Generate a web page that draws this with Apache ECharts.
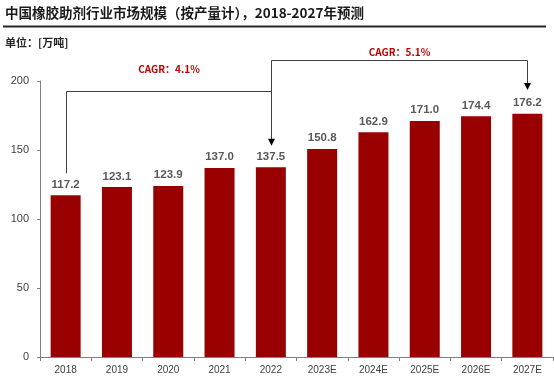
<!DOCTYPE html>
<html><head><meta charset="utf-8">
<script src="https://cdn.jsdelivr.net/npm/echarts@6/dist/echarts.min.js"></script>
<style>html,body{margin:0;padding:0;background:#fff}#c{width:554px;height:382px}</style>
</head><body><div id="c"></div>
<script>
const categories = ['2018','2019','2020','2021','2022','2023E','2024E','2025E','2026E','2027E'];
const values = [117.2,123.1,123.9,137.0,137.5,150.8,162.9,171.0,174.4,176.2];
const yTicks = [0,50,100,150,200];
// CAGR annotations: from index, to index, label, bracket level, start level, arrow tip level, text level (all in axis values)
const cagrFrom = [0, 4];
const cagrTo = [4, 9];
const cagrText = ['CAGR：4.1%', 'CAGR：5.1%'];
const cagrLevel = [193, 215];
const cagrStart = [133, 190];
const cagrTip = [153, 193.5];
const cagrTextLevel = [208.5, 221];

const FONT = '"Noto Sans CJK SC","Liberation Sans",sans-serif';
const NUM = '"Liberation Sans","Noto Sans CJK SC",sans-serif';
const chart = echarts.init(document.getElementById('c'));
const option = {
  animation: false,
  backgroundColor: '#fff',
  grid: {left: 40, right: 1, top: 81, bottom: 25, containLabel: false},
  xAxis: {
    type: 'category', data: categories,
    axisLine: {lineStyle: {color: '#7f7f7f', width: 1}},
    axisTick: {show: true, inside: false, length: 4, lineStyle: {color: '#7f7f7f'}},
    axisLabel: {color: '#404040', fontSize: 10, fontFamily: NUM, margin: 8}
  },
  yAxis: {
    type: 'value', min: yTicks[0], max: yTicks[yTicks.length-1], interval: 50,
    axisLine: {show: true, lineStyle: {color: '#7f7f7f', width: 1}},
    axisTick: {show: true, length: 3, lineStyle: {color: '#7f7f7f'}},
    splitLine: {show: false},
    axisLabel: {color: '#404040', fontSize: 11, fontFamily: NUM, margin: 11}
  },
  series: [{
    type: 'bar', data: values, barWidth: 30,
    itemStyle: {color: '#990000'},
    label: {show: true, position: 'top', distance: 5, color: '#595959', fontSize: 11.5, fontWeight: 'bold', fontFamily: NUM,
      formatter: p => p.value.toFixed(1)}
  }],
  graphic: []
};
chart.setOption(option);

function px(i, v){ return chart.convertToPixel({xAxisIndex:0, yAxisIndex:0}, [categories[i], v]); }
const g = [
  {type:'text', left: 5, top: 6, style:{text:'中国橡胶助剂行业市场规模（按产量计），2018-2027年预测', font:'bold 13.5px ' + FONT, fill:'#1a1a1a'}},
  {type:'line', shape:{x1:3, y1:26.5, x2:546, y2:26.5}, style:{stroke:'#262626', lineWidth:2}},
  {type:'text', left: 5, top: 37, style:{text:'单位：[万吨]', font:'bold 11px ' + FONT, fill:'#262626'}}
];
for (let k = 0; k < cagrFrom.length; k++) {
  const a0 = px(cagrFrom[k], cagrStart[k]);
  const a1 = px(cagrFrom[k], cagrLevel[k]);
  const b1 = px(cagrTo[k], cagrLevel[k]);
  const b2 = px(cagrTo[k], cagrTip[k]);
  const t = px(cagrFrom[k], cagrTextLevel[k]);
  const x0 = Math.round(a0[0]) + 0.5, x1 = Math.round(b1[0]) + 0.5, yl = Math.round(a1[1]) + 0.5;
  g.push({type:'polyline', shape:{points:[[x0, a0[1]],[x0, yl],[x1, yl],[x1, b2[1]-6]]}, style:{stroke:'#404040', lineWidth:1, fill:null}});
  g.push({type:'polygon', shape:{points:[[x1-3.5, b2[1]-7],[x1+3.5, b2[1]-7],[x1, b2[1]]]}, style:{fill:'#000'}});
  g.push({type:'text', x:(x0+x1)/2, y: t[1], style:{text:cagrText[k], font:'bold 10px ' + FONT, fill:'#c00000', textAlign:'center', textVerticalAlign:'middle'}});
}
chart.setOption({graphic: g});
</script></body></html>
